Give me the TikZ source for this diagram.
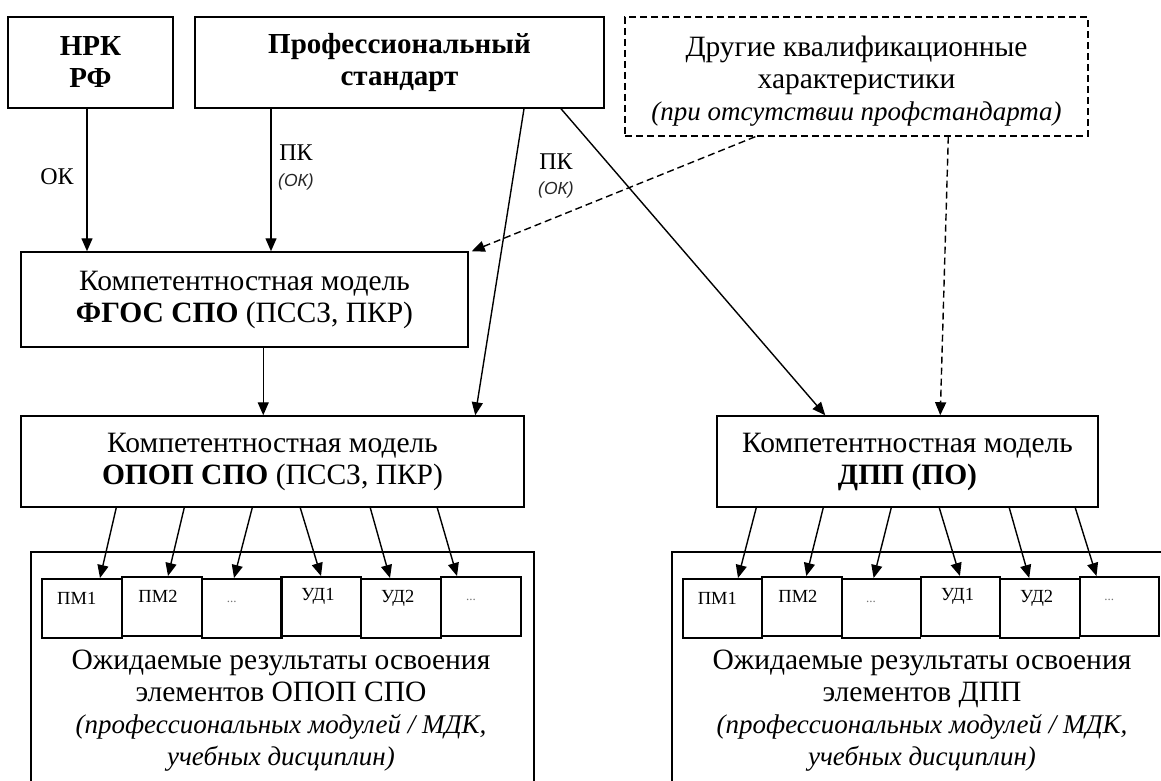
\documentclass[tikz,border=0pt]{standalone}
\usepackage{fontspec}
\setmainfont{Liberation Serif}
\newfontfamily\labsans{Liberation Sans}
\usetikzlibrary{arrows.meta,calc}
\newcommand{\smit}[1]{{\fontsize{27}{32}\selectfont\itshape #1}}
\begin{document}
\begin{tikzpicture}[x=1pt,y=-1pt,
  box/.style={draw, line width=1.5pt, inner sep=0pt, align=center, font=\fontsize{29.5}{32}\selectfont},
  boldbox/.style={box, font=\fontsize{29}{32}\selectfont\bfseries},
  dbox/.style={draw, line width=1.4pt, dash pattern=on 7pt off 4pt, inner sep=0pt},
  frameline/.style={line width=1.5pt},
  arr/.style={line width=1.4pt, -{Triangle[length=13pt,width=11pt]}},
  darr/.style={arr, dash pattern=on 7pt off 4pt},
  sbox/.style={draw, line width=1.5pt, minimum width=80pt, minimum height=59pt, inner sep=0pt, anchor=north west},
  sboxb/.style={sbox, line width=2pt},
  sboxr/.style={sbox, minimum width=79.3pt},
  sboxrb/.style={sboxr, line width=2pt},
  slab/.style={font=\fontsize{18.5}{20}\selectfont},
  dots/.style={font=\fontsize{13}{14}\selectfont, text=black!55},
  lab/.style={font=\fontsize{24}{26}\selectfont},
  slab2/.style={font=\labsans\fontsize{17.5}{19}\selectfont\itshape, text=black!85},
  restext/.style={align=center, font=\fontsize{29.5}{32}\selectfont}
]
\useasboundingbox (0,0) rectangle (1161,781);
% top boxes
\node[boldbox, minimum width=165pt, minimum height=91pt] (nrk) at (90.5,62.5) {НРК\\РФ};
\node[boldbox, minimum width=409pt, minimum height=91pt] (prof) at (399.5,62.5) {Профессиональный\\стандарт};
\node[dbox, minimum width=463pt, minimum height=119pt] (other) at (856.5,76.5) {};
\node[restext] (othertext) at (856.5,81) {Другие квалификационные\\характеристики\\\smit{(при отсутствии профстандарта)}};
% middle boxes
\node[box, minimum width=447pt, minimum height=95pt] (fgos) at (244.5,299.5) {Компетентностная модель\\\textbf{ФГОС СПО} (ПССЗ, ПКР)};
\node[box, minimum width=503pt, minimum height=91pt] (opop) at (272.5,461.5) {Компетентностная модель\\\textbf{ОПОП СПО} (ПССЗ, ПКР)};
\node[box, minimum width=381pt, minimum height=91pt] (dpp) at (907.5,461.5) {Компетентностная модель\\\textbf{ДПП (ПО)}};
% outer frames
\coordinate (lfb) at (31,800);
\coordinate (lft) at (31,552);
\coordinate (rgt) at (534,552);
\coordinate (rgb) at (534,800);
\draw[frameline] (lfb) -- (lft) -- (rgt) -- (rgb);
\coordinate (rfb) at (672,800);
\coordinate (rft) at (672,552);
\coordinate (rrt) at (1175,552);
\draw[frameline] (rfb) -- (rft) -- (rrt);
% small boxes left
\node[sbox] (a1) at (41,578) {};
\node[sboxb] (a2) at (121,576) {};
\node[sbox] (a3) at (201,578) {};
\node[sboxb] (a4) at (280,576) {};
\node[sbox] (a5) at (360,578) {};
\node[sboxb] (a6) at (440,576) {};
\node[slab] (ta1) at ([xshift=-5pt,yshift=-20pt]a1.north) {ПМ1};
\node[slab] (ta2) at ([xshift=-4pt,yshift=-20pt]a2.north) {ПМ2};
\node[dots] (ta3) at ([xshift=-10pt,yshift=-24pt]a3.north) {...};
\node[slab] (ta4) at ([xshift=-3pt,yshift=-20pt]a4.north) {УД1};
\node[slab] (ta5) at ([xshift=-3pt,yshift=-20pt]a5.north) {УД2};
\node[dots] (ta6) at ([xshift=-10pt,yshift=-24pt]a6.north) {...};
% small boxes right
\node[sboxr] (b1) at (682,578) {};
\node[sboxrb] (b2) at (761.3,576) {};
\node[sboxr] (b3) at (840.6,578) {};
\node[sboxrb] (b4) at (919.9,576) {};
\node[sboxr] (b5) at (999.2,578) {};
\node[sboxrb] (b6) at (1078.5,576) {};
\node[slab] (tb1) at ([xshift=-5pt,yshift=-20pt]b1.north) {ПМ1};
\node[slab] (tb2) at ([xshift=-4pt,yshift=-20pt]b2.north) {ПМ2};
\node[dots] (tb3) at ([xshift=-10pt,yshift=-24pt]b3.north) {...};
\node[slab] (tb4) at ([xshift=-3pt,yshift=-20pt]b4.north) {УД1};
\node[slab] (tb5) at ([xshift=-3pt,yshift=-20pt]b5.north) {УД2};
\node[dots] (tb6) at ([xshift=-10pt,yshift=-24pt]b6.north) {...};
% result texts
\node[restext] (resl) at (281,711) {Ожидаемые результаты освоения\\элементов ОПОП СПО\\\smit{(профессиональных модулей / МДК,}\\\smit{учебных дисциплин)}};
\node[restext] (resr) at (922,711) {Ожидаемые результаты освоения\\элементов ДПП\\\smit{(профессиональных модулей / МДК,}\\\smit{учебных дисциплин)}};
% connectors top
\draw[arr] ([xshift=-3.5pt]nrk.south) -- ([xshift=-3.5pt]nrk.south |- fgos.north);
\draw[arr] ([xshift=-128.5pt]prof.south) -- ([xshift=-128.5pt]prof.south |- fgos.north);
\draw[arr] ([xshift=124.5pt]prof.south) -- ([xshift=455pt]opop.north west);
\draw[arr] ([xshift=161.5pt]prof.south) -- ([xshift=109pt]dpp.north west);
\draw[darr] ([xshift=131pt]other.south west) -- ([xshift=3pt]fgos.north east);
\draw[darr] ([xshift=324pt]other.south west) -- ([xshift=224pt]dpp.north west);
\draw[arr] ([xshift=243pt]fgos.south west) -- ([xshift=243pt]fgos.south west |- opop.north);
% labels
\node[lab] (lok) at (57,177) {ОК};
\node[lab] (lpk1) at (296,153) {ПК};
\node[slab2] (lok1) at (296,182) {(ОК)};
\node[lab] (lpk2) at (556,162) {ПК};
\node[slab2] (lok2) at (556,190) {(ОК)};
% connectors bottom left
\draw[arr] ([xshift=96pt]opop.south west) -- ([xshift=59pt]a1.north west);
\draw[arr] ([xshift=164pt]opop.south west) -- ([xshift=47pt]a2.north west);
\draw[arr] ([xshift=232pt]opop.south west) -- ([xshift=33pt]a3.north west);
\draw[arr] ([xshift=280pt]opop.south west) -- ([xshift=41pt]a4.north west);
\draw[arr] ([xshift=350pt]opop.south west) -- ([xshift=30pt]a5.north west);
\draw[arr] ([xshift=417pt]opop.south west) -- ([xshift=17pt]a6.north west);
% connectors bottom right
\draw[arr] ([xshift=40pt]dpp.south west) -- ([xshift=56pt]b1.north west);
\draw[arr] ([xshift=107pt]dpp.south west) -- ([xshift=45pt]b2.north west);
\draw[arr] ([xshift=175pt]dpp.south west) -- ([xshift=33pt]b3.north west);
\draw[arr] ([xshift=223pt]dpp.south west) -- ([xshift=40pt]b4.north west);
\draw[arr] ([xshift=293pt]dpp.south west) -- ([xshift=30pt]b5.north west);
\draw[arr] ([xshift=359pt]dpp.south west) -- ([xshift=18pt]b6.north west);
\end{tikzpicture}
\end{document}
